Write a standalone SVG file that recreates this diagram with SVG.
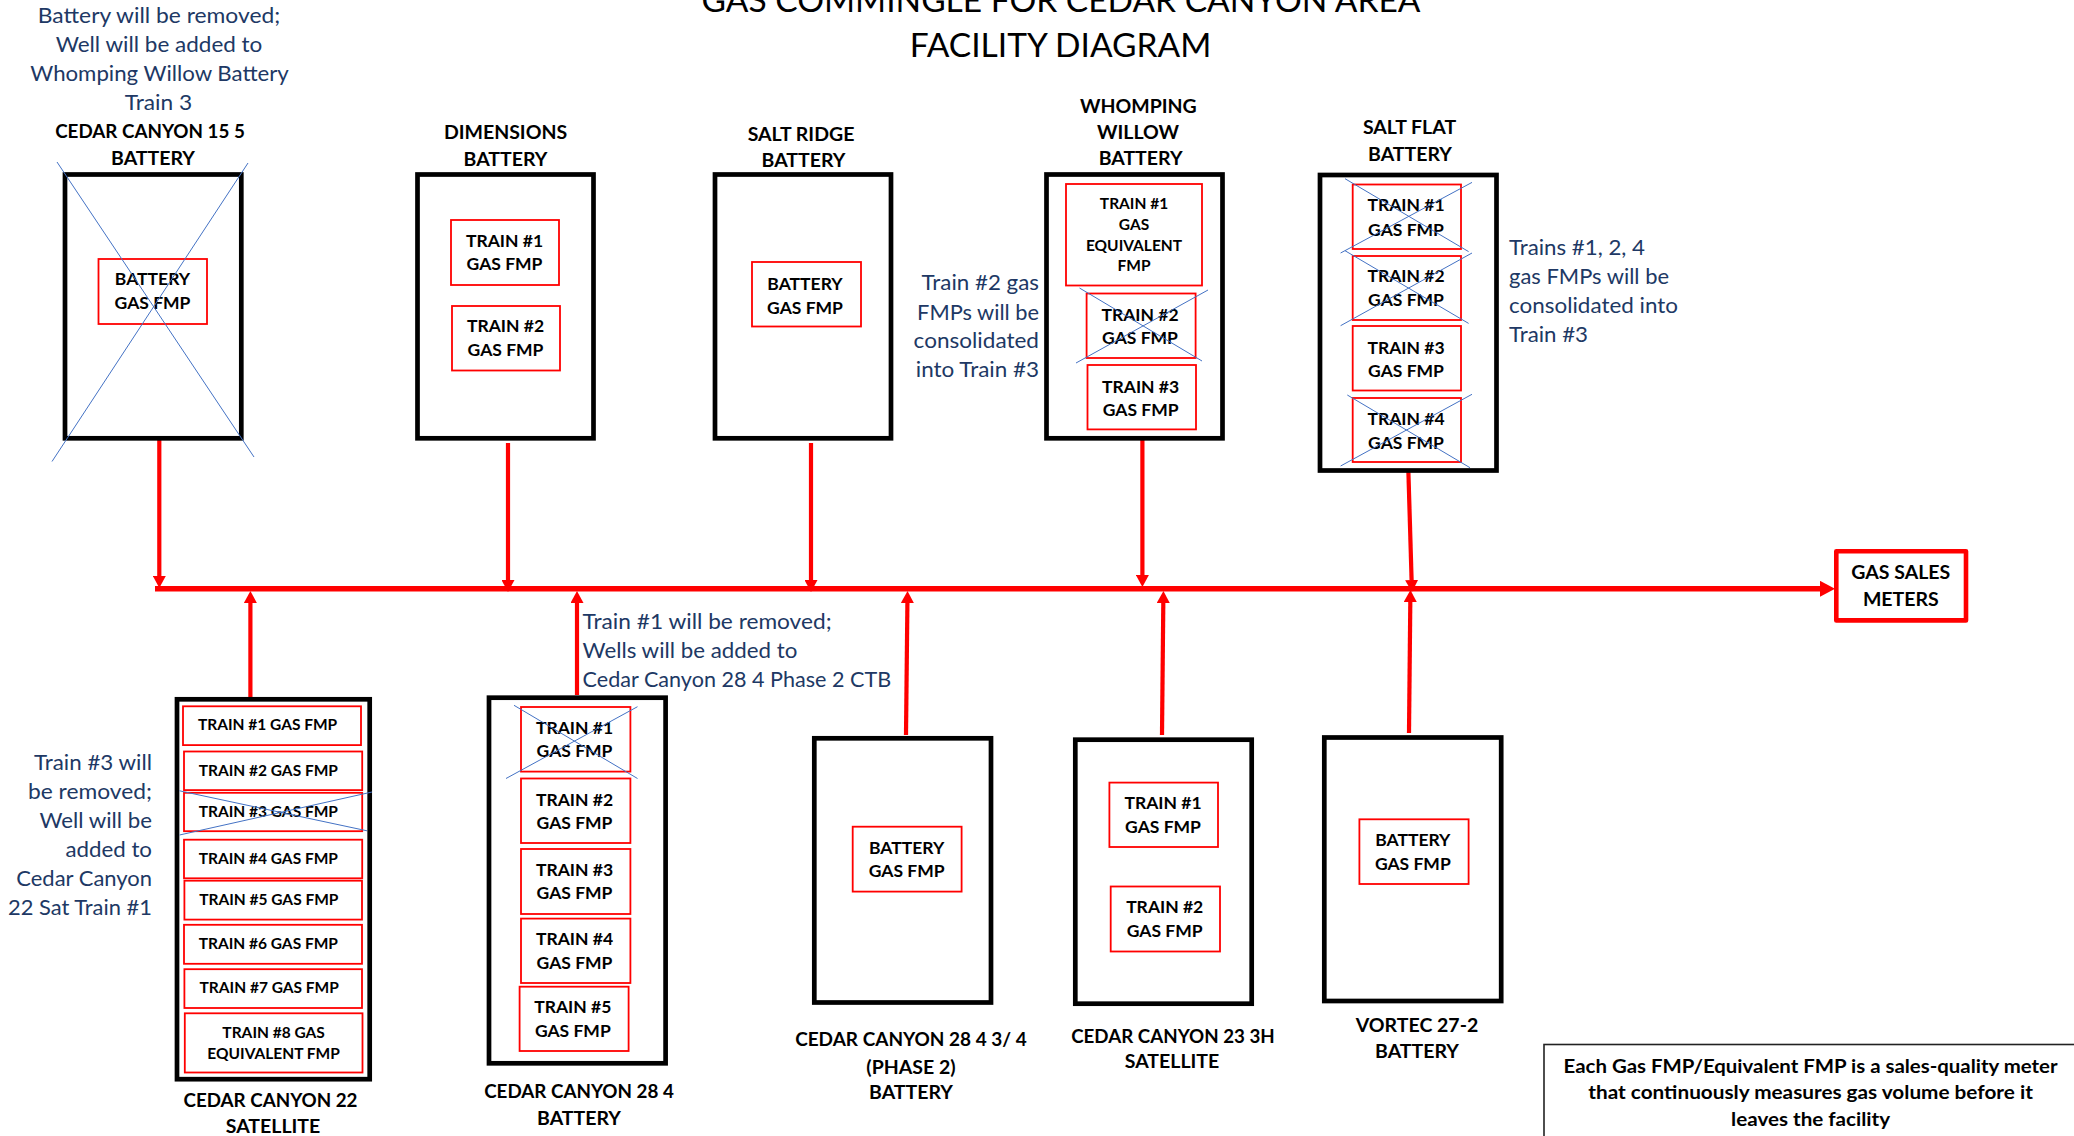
<svg xmlns="http://www.w3.org/2000/svg" width="2074" height="1136" viewBox="0 0 2074 1136">
<style>
text{font-family:"Lato","Carlito","Liberation Sans",sans-serif;text-anchor:middle;fill:#000}
.t{font-size:33.5px}
.b{font-size:19.5px;font-weight:700}
.m{font-size:17.5px;font-weight:700}
.s{font-size:15.5px;font-weight:700}
.a{font-size:22px;fill:#203864}
.e{text-anchor:end}
.l{text-anchor:start}
.box{fill:#fff;stroke:#000;stroke-width:4.7}
.fmp{fill:#fff;stroke:#f00;stroke-width:1.8}
.x{stroke:#4472c4;stroke-width:1;fill:none}
.c{stroke:#f00;stroke-width:4.2;fill:none;marker-end:url(#ah)}
.bus{stroke:#f00;stroke-width:5.4;fill:none;marker-end:url(#ah2)}
</style>
<defs>
<marker id="ah" markerUnits="userSpaceOnUse" markerWidth="12" markerHeight="13" refX="0" refY="6.5" orient="auto" viewBox="0 0 12 13"><path d="M0,0L12,6.5L0,13Z" fill="#f00"/></marker>
<marker id="ah2" markerUnits="userSpaceOnUse" markerWidth="15" markerHeight="16" refX="0" refY="8" orient="auto" viewBox="0 0 15 16"><path d="M0,0L15,8L0,16Z" fill="#f00"/></marker>
</defs>
<rect width="2074" height="1136" fill="#fff"/>
<g id="title">
<text class="t" x="1061" y="11.5">GAS COMMINGLE FOR CEDAR CANYON AREA</text>
<text class="t" x="1060.5" y="57.4">FACILITY DIAGRAM</text>
</g>
<g id="connectors">
<path class="bus" d="M155,588.8H1820"/>
<path class="c" d="M159.3,439V576"/>
<path class="c" d="M508,443V580"/>
<path class="c" d="M811,443V580"/>
<path class="c" d="M1142.4,437V575"/>
<path class="c" d="M1408.4,472L1411.6,580"/>
<path class="c" d="M250.4,697V603"/>
<path class="c" d="M577,695V603"/>
<path class="c" d="M906,735L907.4,603"/>
<path class="c" d="M1162,735L1163.3,603"/>
<path class="c" d="M1409,733L1410.3,602"/>
</g>
<g id="cedar-canyon-15-5">
<text class="a" x="159" y="23" textLength="242.4" lengthAdjust="spacingAndGlyphs">Battery will be removed;</text>
<text class="a" x="159" y="52" textLength="206.7" lengthAdjust="spacingAndGlyphs">Well will be added to</text>
<text class="a" x="159.5" y="81" textLength="258.5" lengthAdjust="spacingAndGlyphs">Whomping Willow Battery</text>
<text class="a" x="158.5" y="110" textLength="67.4" lengthAdjust="spacingAndGlyphs">Train 3</text>
<text class="b" x="150" y="138" textLength="189.7" lengthAdjust="spacingAndGlyphs">CEDAR CANYON 15 5</text>
<text class="b" x="153" y="165">BATTERY</text>
<rect class="box" x="65" y="174.5" width="176.3" height="263.8"/>
<rect class="fmp" x="98.5" y="259" width="108.5" height="65"/>
<text class="m" x="152.5" y="285">BATTERY</text>
<text class="m" x="152.5" y="309">GAS FMP</text>
<path class="x" d="M57,162L254,457M248,163L52,461.5"/>
</g>
<g id="dimensions">
<text class="b" x="505.5" y="139">DIMENSIONS</text>
<text class="b" x="505.5" y="166">BATTERY</text>
<rect class="box" x="417.5" y="174.5" width="176" height="263.8"/>
<rect class="fmp" x="451" y="220" width="108" height="65"/>
<text class="m" x="504.5" y="247">TRAIN #1</text>
<text class="m" x="504.5" y="270">GAS FMP</text>
<rect class="fmp" x="452" y="306" width="108" height="64.5"/>
<text class="m" x="505.5" y="332">TRAIN #2</text>
<text class="m" x="505.5" y="356">GAS FMP</text>
</g>
<g id="salt-ridge">
<text class="b" x="801" y="140.5">SALT RIDGE</text>
<text class="b" x="803.5" y="167">BATTERY</text>
<rect class="box" x="715" y="174.5" width="176" height="263.8"/>
<rect class="fmp" x="752" y="262" width="109" height="64.5"/>
<text class="m" x="805" y="290">BATTERY</text>
<text class="m" x="805" y="314">GAS FMP</text>
</g>
<g id="whomping-willow">
<text class="a e" x="1039" y="290" textLength="117.4" lengthAdjust="spacingAndGlyphs">Train #2 gas</text>
<text class="a e" x="1039" y="319.5" textLength="121.9" lengthAdjust="spacingAndGlyphs">FMPs will be</text>
<text class="a e" x="1039" y="348" textLength="125.4" lengthAdjust="spacingAndGlyphs">consolidated</text>
<text class="a e" x="1039" y="377" textLength="123.2" lengthAdjust="spacingAndGlyphs">into Train #3</text>
<text class="b" x="1138.4" y="113">WHOMPING</text>
<text class="b" x="1138" y="139">WILLOW</text>
<text class="b" x="1140.6" y="165">BATTERY</text>
<rect class="box" x="1046.5" y="174.5" width="176" height="263.8"/>
<rect class="fmp" x="1066" y="184" width="136" height="101.5"/>
<text class="s" x="1134" y="208.6">TRAIN #1</text>
<text class="s" x="1134" y="229.6">GAS</text>
<text class="s" x="1134" y="250.7">EQUIVALENT</text>
<text class="s" x="1134" y="271.3">FMP</text>
<rect class="fmp" x="1086.6" y="293.5" width="109" height="64.5"/>
<text class="m" x="1140" y="320.7">TRAIN #2</text>
<text class="m" x="1140" y="344.4">GAS FMP</text>
<path class="x" d="M1079.5,288L1202,361M1208,290L1076,363"/>
<rect class="fmp" x="1087.5" y="365" width="108.5" height="64.4"/>
<text class="m" x="1140.6" y="392.6">TRAIN #3</text>
<text class="m" x="1140.6" y="416.4">GAS FMP</text>
</g>
<g id="salt-flat">
<text class="b" x="1409.5" y="134">SALT FLAT</text>
<text class="b" x="1410" y="161">BATTERY</text>
<rect class="box" x="1320" y="175" width="176.5" height="295.5"/>
<rect class="fmp" x="1352.7" y="184.5" width="108.3" height="64.5"/>
<text class="m" x="1406" y="211.4">TRAIN #1</text>
<text class="m" x="1406" y="235.5">GAS FMP</text>
<rect class="fmp" x="1352.7" y="256" width="108.3" height="64"/>
<text class="m" x="1406" y="282.3">TRAIN #2</text>
<text class="m" x="1406" y="306">GAS FMP</text>
<rect class="fmp" x="1352.7" y="326" width="108.3" height="64.5"/>
<text class="m" x="1406" y="353.6">TRAIN #3</text>
<text class="m" x="1406" y="377.3">GAS FMP</text>
<rect class="fmp" x="1352.7" y="398" width="108.3" height="64"/>
<text class="m" x="1406" y="424.5">TRAIN #4</text>
<text class="m" x="1406" y="448.6">GAS FMP</text>
<path class="x" d="M1472,182.4L1340.6,253M1345,178.7L1468.6,251.6M1472,253L1340.6,325.7M1345,250.7L1468.6,323.4M1472,394.3L1340.6,466M1347.3,395L1470,467.7"/>
<text class="a l" x="1509" y="255" textLength="136" lengthAdjust="spacingAndGlyphs">Trains #1, 2, 4</text>
<text class="a l" x="1509" y="284" textLength="160" lengthAdjust="spacingAndGlyphs">gas FMPs will be</text>
<text class="a l" x="1509" y="313" textLength="169" lengthAdjust="spacingAndGlyphs">consolidated into</text>
<text class="a l" x="1509" y="342" textLength="79" lengthAdjust="spacingAndGlyphs">Train #3</text>
</g>
<g id="gas-sales-meters">
<rect x="1836.3" y="551.3" width="129.7" height="69.1" fill="#fff" stroke="#f00" stroke-width="4.6" stroke-linejoin="round"/>
<text class="b" x="1900.8" y="579.3">GAS SALES</text>
<text class="b" x="1900.8" y="605.7">METERS</text>
</g>
<g id="cedar-canyon-22">
<text class="a e" x="152" y="770" textLength="117.9" lengthAdjust="spacingAndGlyphs">Train #3 will</text>
<text class="a e" x="152" y="799" textLength="124" lengthAdjust="spacingAndGlyphs">be removed;</text>
<text class="a e" x="152" y="828" textLength="112.5" lengthAdjust="spacingAndGlyphs">Well will be</text>
<text class="a e" x="152" y="857" textLength="86.6" lengthAdjust="spacingAndGlyphs">added to</text>
<text class="a e" x="152" y="886" textLength="135.7" lengthAdjust="spacingAndGlyphs">Cedar Canyon</text>
<text class="a e" x="152" y="915" textLength="144" lengthAdjust="spacingAndGlyphs">22 Sat Train #1</text>
<rect class="box" x="177" y="699.3" width="192.7" height="379.9"/>
<rect class="fmp" x="183" y="706.3" width="178" height="38.8"/>
<text class="s" x="267.6" y="730.2">TRAIN #1 GAS FMP</text>
<rect class="fmp" x="184" y="751.5" width="178.2" height="38.6"/>
<text class="s" x="268.3" y="776.4">TRAIN #2 GAS FMP</text>
<rect class="fmp" x="184" y="792.8" width="178.2" height="38.4"/>
<text class="s" x="268.3" y="817.4">TRAIN #3 GAS FMP</text>
<path class="x" d="M179.5,790.8L367,830.8M372,792L179.5,835"/>
<rect class="fmp" x="184" y="839.7" width="178.2" height="38.6"/>
<text class="s" x="268.3" y="864.3">TRAIN #4 GAS FMP</text>
<rect class="fmp" x="184.4" y="880.7" width="177.6" height="38.9"/>
<text class="s" x="268.8" y="905.3">TRAIN #5 GAS FMP</text>
<rect class="fmp" x="184" y="924.8" width="178" height="39"/>
<text class="s" x="268.3" y="949.4">TRAIN #6 GAS FMP</text>
<rect class="fmp" x="184.4" y="969.2" width="177.6" height="38.8"/>
<text class="s" x="269.2" y="993.2">TRAIN #7 GAS FMP</text>
<rect class="fmp" x="184.8" y="1013.3" width="177.7" height="59.2"/>
<text class="s" x="273.6" y="1038.3">TRAIN #8 GAS</text>
<text class="s" x="273.6" y="1059">EQUIVALENT FMP</text>
<text class="b" x="270.5" y="1106.7" textLength="174" lengthAdjust="spacingAndGlyphs">CEDAR CANYON 22</text>
<text class="b" x="273" y="1133.3">SATELLITE</text>
</g>
<g id="cedar-canyon-28-4">
<text class="a l" x="582.6" y="629" textLength="249" lengthAdjust="spacingAndGlyphs">Train #1 will be removed;</text>
<text class="a l" x="582.6" y="658" textLength="214.7" lengthAdjust="spacingAndGlyphs">Wells will be added to</text>
<text class="a l" x="582.6" y="687" textLength="308.5" lengthAdjust="spacingAndGlyphs">Cedar Canyon 28 4 Phase 2 CTB</text>
<rect class="box" x="489" y="697.7" width="176.6" height="365.6"/>
<rect class="fmp" x="521" y="707" width="109.4" height="64.6"/>
<text class="m" x="574.5" y="734">TRAIN #1</text>
<text class="m" x="574.5" y="756.6">GAS FMP</text>
<path class="x" d="M514,705.3L637.5,778.5M637.5,706.7L506,778.5"/>
<rect class="fmp" x="521" y="778.5" width="109.4" height="64.5"/>
<text class="m" x="574.5" y="805.5">TRAIN #2</text>
<text class="m" x="574.5" y="829">GAS FMP</text>
<rect class="fmp" x="521" y="849" width="109.4" height="65"/>
<text class="m" x="574.5" y="876">TRAIN #3</text>
<text class="m" x="574.5" y="899">GAS FMP</text>
<rect class="fmp" x="521" y="918.6" width="109.4" height="64.4"/>
<text class="m" x="574.5" y="945.3">TRAIN #4</text>
<text class="m" x="574.5" y="969">GAS FMP</text>
<rect class="fmp" x="519.6" y="986.7" width="109" height="64.3"/>
<text class="m" x="572.8" y="1013.3">TRAIN #5</text>
<text class="m" x="572.8" y="1037">GAS FMP</text>
<text class="b" x="579" y="1097.8" textLength="189.7" lengthAdjust="spacingAndGlyphs">CEDAR CANYON 28 4</text>
<text class="b" x="579" y="1124.8">BATTERY</text>
</g>
<g id="cedar-canyon-28-4-phase-2">
<rect class="box" x="814.3" y="738.3" width="176.7" height="264.2"/>
<rect class="fmp" x="852.7" y="826.7" width="108.9" height="64.9"/>
<text class="m" x="906.7" y="853.7">BATTERY</text>
<text class="m" x="906.7" y="877">GAS FMP</text>
<text class="b" x="911" y="1046" textLength="231.7" lengthAdjust="spacingAndGlyphs">CEDAR CANYON 28 4 3/ 4</text>
<text class="b" x="911" y="1073.5">(PHASE 2)</text>
<text class="b" x="911" y="1099">BATTERY</text>
</g>
<g id="cedar-canyon-23-3h">
<rect class="box" x="1075.3" y="739.7" width="176.4" height="264"/>
<rect class="fmp" x="1109.4" y="782.6" width="108.6" height="64.4"/>
<text class="m" x="1163" y="809">TRAIN #1</text>
<text class="m" x="1163" y="833">GAS FMP</text>
<rect class="fmp" x="1110.7" y="886.5" width="109.3" height="65"/>
<text class="m" x="1164.7" y="913">TRAIN #2</text>
<text class="m" x="1164.7" y="937">GAS FMP</text>
<text class="b" x="1173" y="1042.7" textLength="203.6" lengthAdjust="spacingAndGlyphs">CEDAR CANYON 23 3H</text>
<text class="b" x="1172" y="1068.4">SATELLITE</text>
</g>
<g id="vortec-27-2">
<rect class="box" x="1324.3" y="737.5" width="176.9" height="263.5"/>
<rect class="fmp" x="1359.4" y="819.3" width="109.2" height="64.7"/>
<text class="m" x="1412.8" y="846">BATTERY</text>
<text class="m" x="1412.8" y="870">GAS FMP</text>
<text class="b" x="1417" y="1031.7">VORTEC 27-2</text>
<text class="b" x="1417" y="1057.7">BATTERY</text>
</g>
<g id="note">
<rect x="1544" y="1044.5" width="560" height="120" fill="#fff" stroke="#222" stroke-width="1.6"/>
<text class="b" x="1810.6" y="1072.7" textLength="494" lengthAdjust="spacingAndGlyphs">Each Gas FMP/Equivalent FMP is a sales-quality meter</text>
<text class="b" x="1810.6" y="1099.3" textLength="444.6" lengthAdjust="spacingAndGlyphs">that continuously measures gas volume before it</text>
<text class="b" x="1810.6" y="1126" textLength="159" lengthAdjust="spacingAndGlyphs">leaves the facility</text>
</g>
</svg>
